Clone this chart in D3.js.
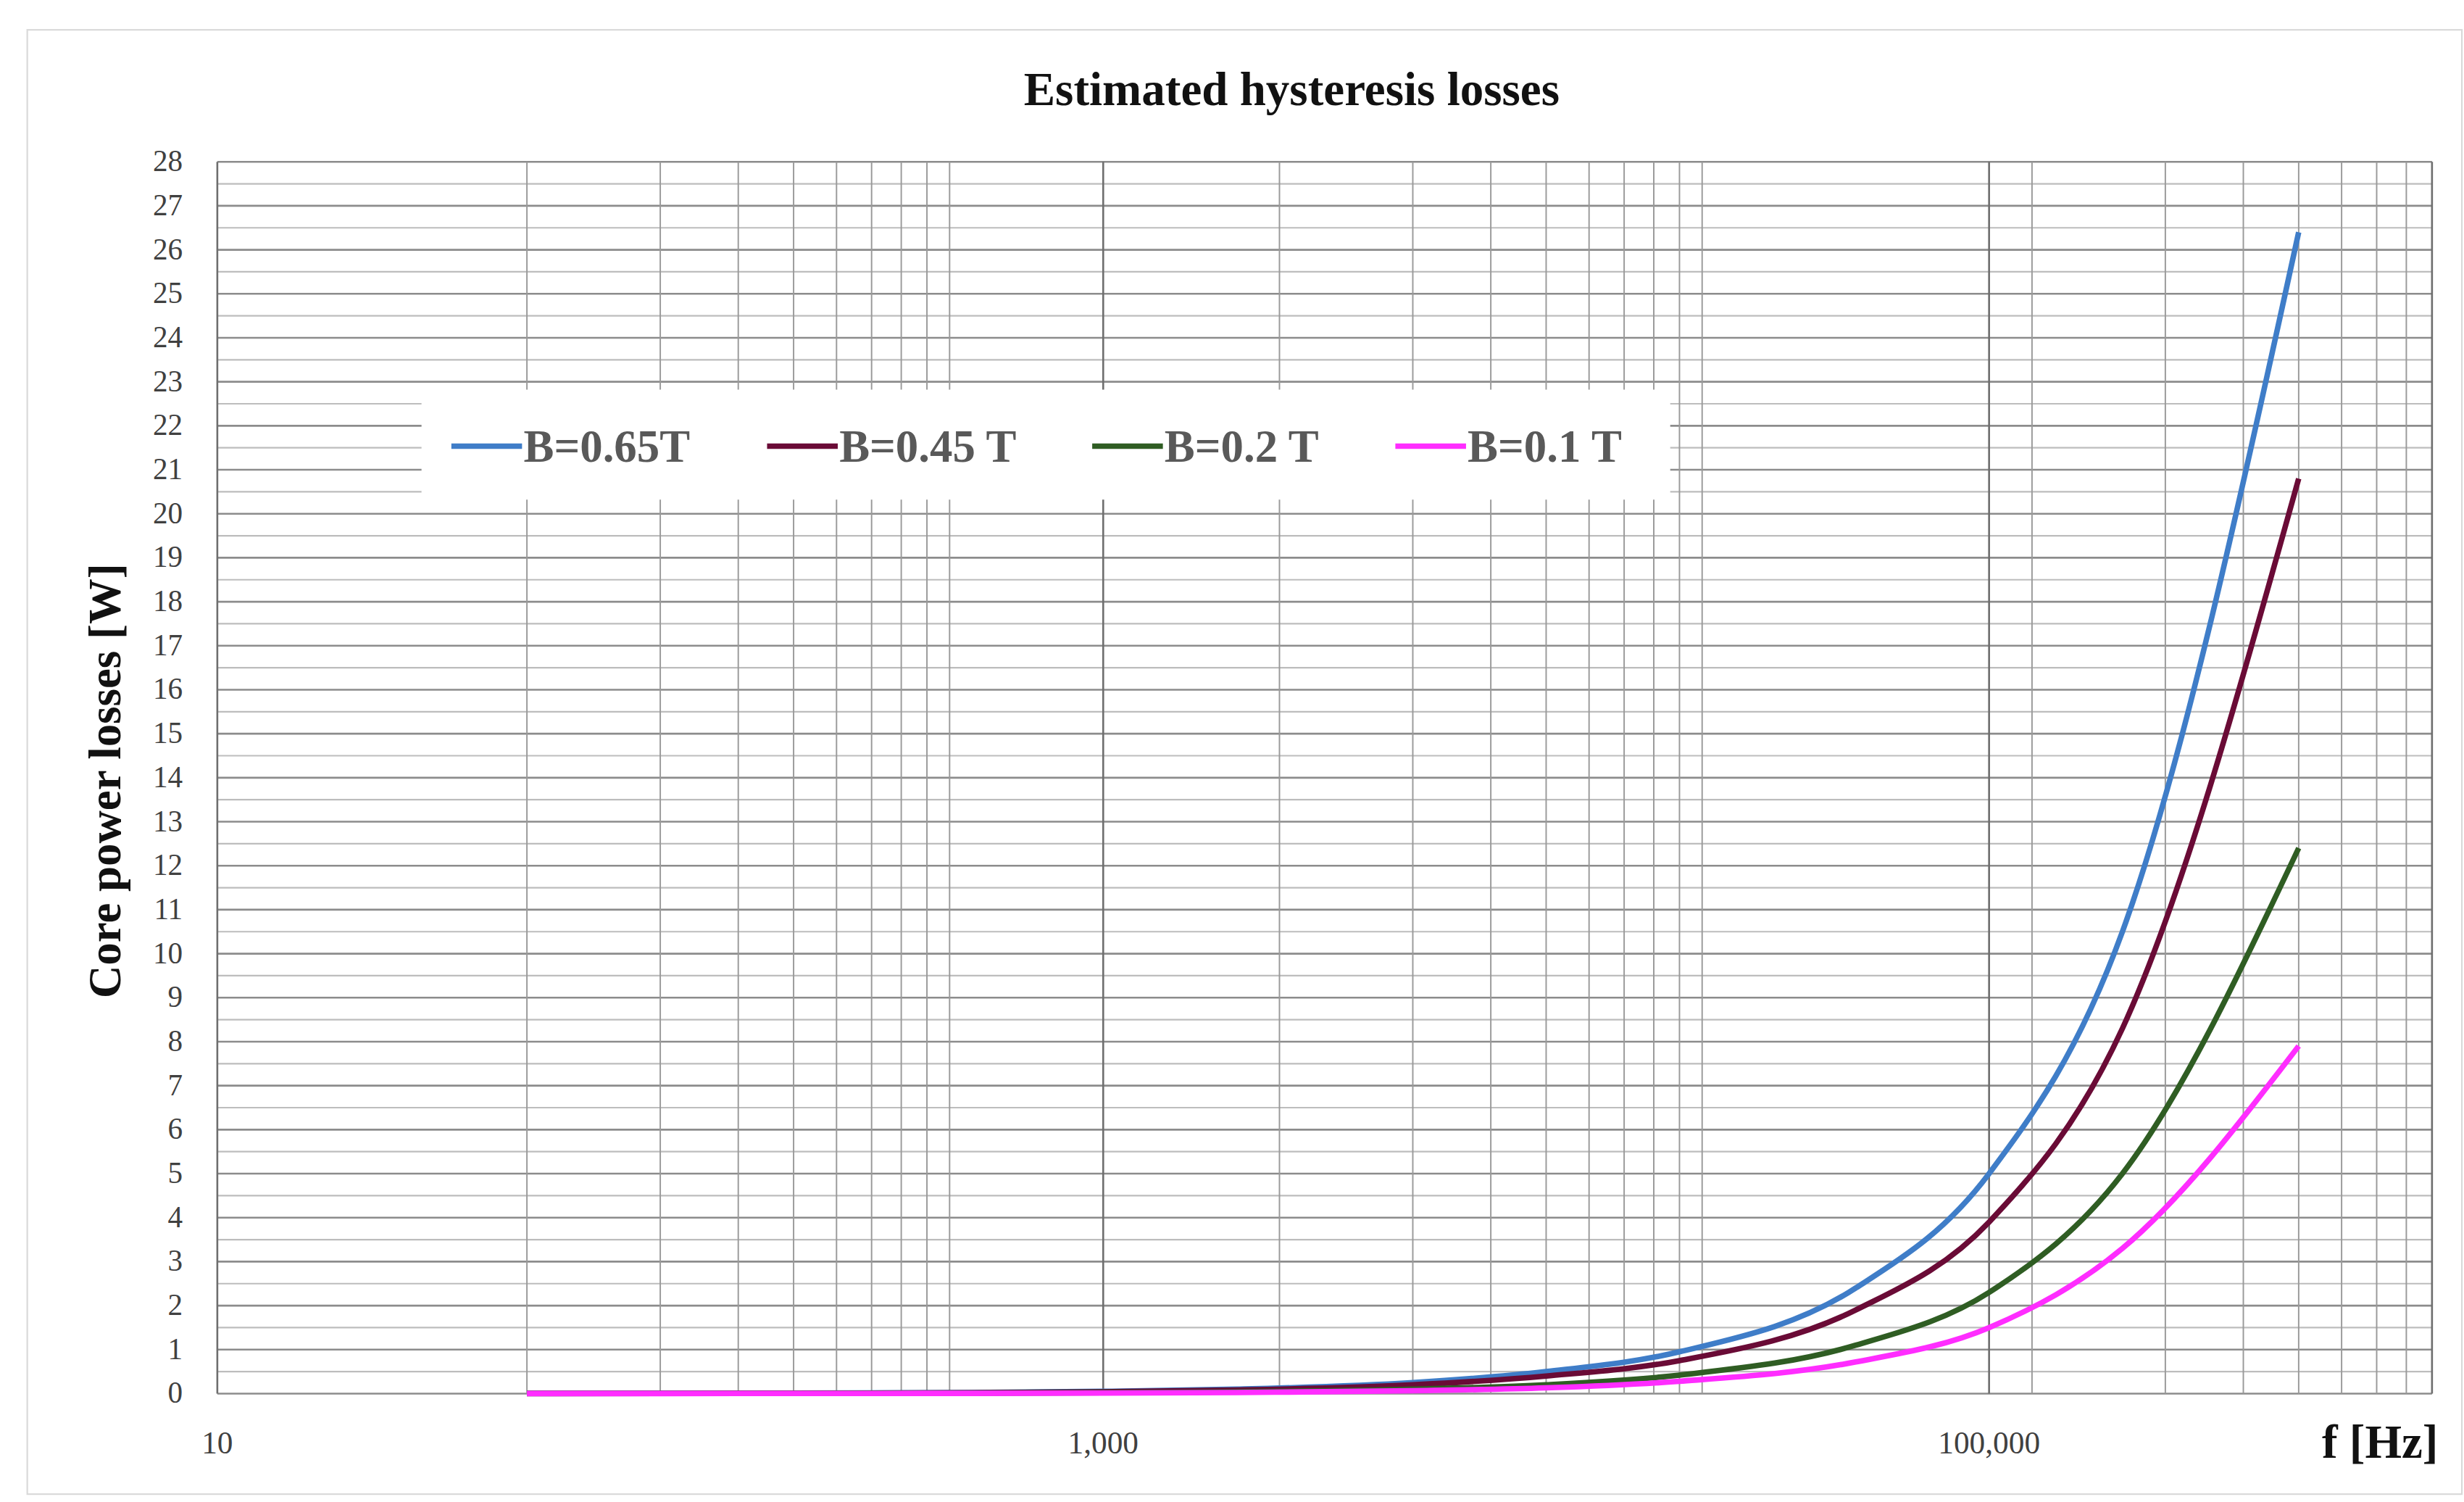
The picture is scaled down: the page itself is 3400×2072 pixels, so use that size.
<!DOCTYPE html>
<html>
<head>
<meta charset="utf-8">
<script src="https://cdn.jsdelivr.net/npm/d3@7"></script>
<style>
  body { margin: 0; background: #fff; }
  text { font-family: "Liberation Serif", "Times New Roman", serif; }
</style>
</head>
<body>
<div id="chart"></div>
<script>
// frequencies (Hz)
const freqs = [50, 100, 200, 500, 1000, 2000, 5000, 10000, 20000, 50000, 100000, 200000, 500000];
// core losses [W] per flux density
const lossB065 = [0.003, 0.005, 0.01, 0.025, 0.05, 0.1, 0.25, 0.5, 0.95, 2.4, 5.0, 10.5, 26.4];
const lossB045 = [0.002, 0.004, 0.008, 0.02, 0.04, 0.08, 0.2, 0.4, 0.75, 1.9, 3.9, 8.3, 20.8];
const lossB02  = [0.001, 0.002, 0.004, 0.01, 0.02, 0.04, 0.1, 0.2, 0.42, 1.1, 2.3, 5.0, 12.4];
const lossB01  = [0.001, 0.001, 0.003, 0.006, 0.012, 0.025, 0.065, 0.13, 0.28, 0.72, 1.5, 3.3, 7.9];

const seriesNames = ["B=0.65T", "B=0.45 T", "B=0.2 T", "B=0.1 T"];
const seriesColors = ["#3f7dc8", "#6a0b36", "#2f5d23", "#ff2dff"];
const seriesValues = [lossB065, lossB045, lossB02, lossB01];

const xMajor = [10, 1000, 100000, 1000000];
const xTickLabels = ["10", "1,000", "100,000"];
const xMinor = [50, 100, 150, 200, 250, 300, 350, 400, 450,
  2500, 5000, 7500, 10000, 12500, 15000, 17500, 20000, 22500,
  125000, 250000, 375000, 500000, 625000, 750000, 875000];
const yTicks = d3.range(0, 29, 1);
const yHalf = d3.range(0.5, 28, 1);

const W = 1568, H = 956;
const svg = d3.select("#chart").append("svg")
  .attr("width", 3400).attr("height", 2072)
  .attr("viewBox", `0 0 ${W} ${H}`);

svg.append("rect").attr("x", 17).attr("y", 19).attr("width", 1550).attr("height", 932)
  .attr("fill", "#fff").attr("stroke", "#d9d9d9");

const pLeft = 138, pRight = 1548, pTop = 103, pBottom = 887;
const x = d3.scaleLog().domain([10, 1000000]).range([pLeft, pRight]);
const y = d3.scaleLinear().domain([0, 28]).range([pBottom, pTop]);

// grid
const grid = svg.append("g");
grid.selectAll(".hh").data(yHalf).enter().append("line")
  .attr("x1", pLeft).attr("x2", pRight).attr("y1", d => y(d)).attr("y2", d => y(d))
  .attr("stroke", "#bdbdbd").attr("stroke-width", 1);
grid.selectAll(".hm").data(yTicks).enter().append("line")
  .attr("x1", pLeft).attr("x2", pRight).attr("y1", d => y(d)).attr("y2", d => y(d))
  .attr("stroke", "#8c8c8c").attr("stroke-width", 1.2);
grid.selectAll(".vm").data(xMinor).enter().append("line")
  .attr("x1", d => x(d)).attr("x2", d => x(d)).attr("y1", pTop).attr("y2", pBottom)
  .attr("stroke", "#9a9a9a").attr("stroke-width", 0.9);
grid.selectAll(".vM").data(xMajor).enter().append("line")
  .attr("x1", d => x(d)).attr("x2", d => x(d)).attr("y1", pTop).attr("y2", pBottom)
  .attr("stroke", "#6e6e6e").attr("stroke-width", 1.2);

// axis labels
svg.append("g").selectAll("text").data(yTicks).enter().append("text")
  .attr("x", 116).attr("y", d => y(d) + 6).attr("text-anchor", "end")
  .attr("font-size", 19).attr("fill", "#404040").text(d => d);
svg.append("g").selectAll("text").data(xTickLabels).enter().append("text")
  .attr("x", (d, i) => x(xMajor[i])).attr("y", 925).attr("text-anchor", "middle")
  .attr("font-size", 20).attr("fill", "#404040").text(d => d);

svg.append("text").attr("x", 822).attr("y", 67).attr("text-anchor", "middle")
  .attr("font-size", 30).attr("font-weight", "bold").attr("fill", "#111")
  .text("Estimated hysteresis losses");
svg.append("text").attr("transform", "translate(76,497) rotate(-90)")
  .attr("text-anchor", "middle").attr("font-size", 29).attr("font-weight", "bold")
  .attr("fill", "#111").text("Core power losses [W]");
svg.append("text").attr("x", 1552).attr("y", 928).attr("text-anchor", "end")
  .attr("font-size", 30).attr("font-weight", "bold").attr("fill", "#111").text("f [Hz]");

// lines
const line = d3.line().x(d => x(d[0])).y(d => y(d[1])).curve(d3.curveMonotoneX);
seriesValues.forEach((vals, i) => {
  svg.append("path").datum(freqs.map((f, j) => [f, vals[j]]))
    .attr("d", line).attr("fill", "none")
    .attr("stroke", seriesColors[i]).attr("stroke-width", 3.5)
    .attr("stroke-linejoin", "round");
});

// legend
const lg = svg.append("g");
lg.append("rect").attr("x", 268).attr("y", 248).attr("width", 795).attr("height", 70).attr("fill", "#fff");
const legX = [287, 488, 695, 888];
seriesNames.forEach((n, i) => {
  lg.append("line").attr("x1", legX[i]).attr("x2", legX[i] + 45).attr("y1", 284).attr("y2", 284)
    .attr("stroke", seriesColors[i]).attr("stroke-width", 3.5);
  lg.append("text").attr("x", legX[i] + 46).attr("y", 294).attr("font-size", 29)
    .attr("font-weight", "bold").attr("fill", "#595959").text(n);
});
</script>
</body>
</html>
